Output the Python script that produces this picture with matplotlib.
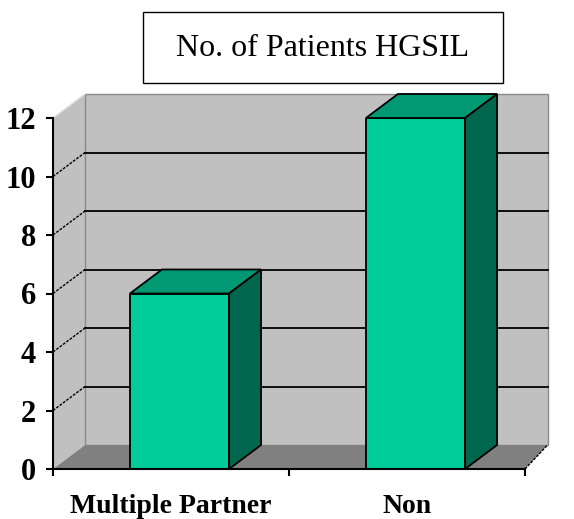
from matplotlib import pyplot as plt
from matplotlib.patches import Polygon, Rectangle
import numpy as np

# data
categories = ['Multiple Partner', 'Non']
patients = [6, 12]
y_ticks = [0, 2, 4, 6, 8, 10, 12]
title = 'No. of Patients HGSIL'

# 3d look
depth_px = (32, 24)          # pixel offset of the back plane
front_col = '#00CC99'
top_col = '#009973'
side_col = '#00664D'
wall_col = '#C0C0C0'
floor_col = '#808080'

W, H = 574, 519
fig = plt.figure(figsize=(W / 100, H / 100), dpi=100)
ax = fig.add_axes([53 / W, (H - 469) / H, 472 / W, 351 / H])
ax.set_xlim(0, 2)
ax.set_ylim(0, 12)
ax.patch.set_visible(False)

# depth offset in data units
p0 = ax.transData.transform((0, 0))
dd = ax.transData.inverted().transform(p0 + np.array(depth_px))
ddx, ddy = dd[0], dd[1]
ymax = y_ticks[-1]

# walls and floor
ax.add_patch(Polygon([(0, 0), (ddx, ddy), (ddx, ymax + ddy), (0, ymax)],
                     closed=True, fc=wall_col, ec='none', zorder=0, clip_on=False))
ax.add_patch(Rectangle((ddx, ddy), 2 - 0.04, ymax, fc=wall_col, ec='#8a8a8a', lw=1,
                       zorder=0, clip_on=False))
ax.plot([0, ddx], [ymax, ymax + ddy], color='#e0e0e0', lw=1, zorder=1, clip_on=False)
ax.add_patch(Polygon([(0, 0), (2, 0), (2 + ddx - 0.04, ddy), (ddx, ddy)],
                     closed=True, fc=floor_col, ec='none', zorder=1, clip_on=False))
ax.plot([2, 2 + ddx - 0.04], [0, ddy], color='black', lw=1, ls=(0, (2, 1)), zorder=1, clip_on=False)

# gridlines
for t in y_ticks[1:-1]:
    ax.plot([ddx, 2 + ddx - 0.04], [t + ddy, t + ddy], color='black', lw=1.3, zorder=1, clip_on=False)
    ax.plot([0, ddx], [t, t + ddy], color='black', lw=1, ls=(0, (2, 1)), zorder=1, clip_on=False)

# bars
xs = np.arange(len(categories)) + 0.5 + 0.036
bw = 0.42
ax.bar(xs, patients, width=bw, color=front_col, edgecolor='black', lw=1.3, zorder=3)
for x, v in zip(xs, patients):
    l, r = x - bw / 2, x + bw / 2
    ax.add_patch(Polygon([(l, v), (r, v), (r + ddx, v + ddy), (l + ddx, v + ddy)],
                         closed=True, fc=top_col, ec='black', lw=1.3, zorder=3, clip_on=False))
    ax.add_patch(Polygon([(r, 0), (r + ddx, ddy), (r + ddx, v + ddy), (r, v)],
                         closed=True, fc=side_col, ec='black', lw=1.3, zorder=3, clip_on=False))

# axes
for s in ['top', 'right']:
    ax.spines[s].set_visible(False)
ax.spines['left'].set_linewidth(1.5)
ax.spines['bottom'].set_linewidth(1.5)
ax.spines['left'].set_zorder(4)
ax.spines['bottom'].set_zorder(4)
ax.set_yticks(y_ticks)
ax.set_xticks([0, 1, 2])
ax.set_xticklabels([])
ax.set_xticks(np.arange(len(categories)) + 0.5, minor=True)
ax.set_xticklabels(categories, minor=True)
ax.tick_params(axis='x', which='minor', length=0, pad=18)
ax.tick_params(axis='both', which='major', length=5, width=1.5, direction='out')
ax.tick_params(axis='y', pad=7)
for lab in ax.get_yticklabels():
    lab.set_fontfamily('Liberation Serif')
    lab.set_fontweight('bold')
    lab.set_fontsize(22)
for lab in ax.get_xticklabels(minor=True):
    lab.set_fontfamily('Liberation Serif')
    lab.set_fontweight('bold')
    lab.set_fontsize(20)

# title box
fig.patches.append(Rectangle((143 / W, (H - 83) / H), 360 / W, 71 / H, fill=False,
                             ec='black', lw=1, transform=fig.transFigure, figure=fig))
fig.text(323 / W, (H - 48) / H, title, ha='center', va='center',
         fontfamily='Liberation Serif', fontsize=23)

fig.savefig('out.png', dpi=100)
